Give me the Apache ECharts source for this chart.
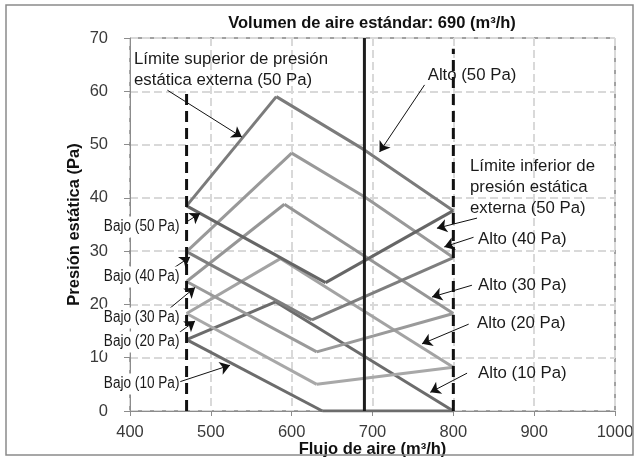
<!DOCTYPE html>
<html>
<head>
<meta charset="utf-8">
<script src="https://cdn.jsdelivr.net/npm/echarts@6/dist/echarts.min.js"></script>
<style>
  html, body { margin: 0; padding: 0; background: #ffffff; }
  #chart { width: 639px; height: 461px; }
</style>
</head>
<body>
<div id="chart"></div>
<script>
// Pressure settings (external static pressure)
const pressures = ['10 Pa', '20 Pa', '30 Pa', '40 Pa', '50 Pa'];

// Low fan speed curves [flow m3/h, pressure Pa]
const bajoCurves = [
  [[470, 13.4], [638, 0]],
  [[470, 18.3], [631, 5.0]],
  [[470, 24.3], [631, 11.1]],
  [[470, 29.9], [625, 17.1]],
  [[470, 38.5], [642, 24.1]]
];

// High fan speed curves
const altoCurves = [
  [[580, 20.5], [800, 0]],
  [[586, 28.6], [800, 8.2]],
  [[591, 38.8], [800, 18.3]],
  [[600, 48.4], [690, 40.2], [800, 28.8]],
  [[581, 59.0], [690, 49.0], [800, 37.6]]
];

// Upper limit of external static pressure
const upperLimits = [
  [[470, 13.4], [580, 20.5]],
  [[470, 18.3], [586, 28.6]],
  [[470, 24.3], [591, 38.8]],
  [[470, 29.9], [600, 48.4]],
  [[470, 38.5], [581, 59.0]]
];

// Lower limit of external static pressure
const lowerLimits = [
  [[638, 0], [800, 0]],
  [[631, 5.0], [800, 8.2]],
  [[631, 11.1], [800, 18.3]],
  [[625, 17.1], [800, 28.8]],
  [[642, 24.1], [800, 37.6]]
];

// Standard air volume and the operating flow range
const standardFlow = [[690, 0], [690, 70]];
const minFlowLine = [[470, 0], [470, 60]];
const maxFlowLine = [[800, 0], [800, 68]];

// Axis ticks
const xTicks = [400, 500, 600, 700, 800, 900, 1000];
const yTicks = [0, 10, 20, 30, 40, 50, 60, 70];

// Curve colours per setting (10 → 50 Pa)
const upperColors = ['#6c6c6c', '#a3a3a3', '#969696', '#999999', '#7b7b7b'];
const altoColors  = ['#6c6c6c', '#a3a3a3', '#969696', '#999999', '#7b7b7b'];
const bajoColors  = ['#6c6c6c', '#a8a8a8', '#9a9a9a', '#7e7e7e', '#666666'];
const lowerColors = ['#6c6c6c', '#a8a8a8', '#9a9a9a', '#7e7e7e', '#666666'];

const FONT = '"Liberation Sans", Arial, sans-serif';

function curve(name, data, color, z) {
  return {
    name: name, type: 'line', data: data, showSymbol: false, symbol: 'none',
    lineStyle: { color: color, width: 3 }, z: z, silent: true, animation: false
  };
}

const series = [];
pressures.forEach((p, i) => {
  series.push(curve('Límite superior ' + p, upperLimits[i], upperColors[i], 2 + i * 0.01));
  series.push(curve('Alto ' + p, altoCurves[i], altoColors[i], 2 + i * 0.01));
  series.push(curve('Bajo ' + p, bajoCurves[i], bajoColors[i], 2 + i * 0.01));
  series.push(curve('Límite inferior ' + p, lowerLimits[i], lowerColors[i], 2 + i * 0.01));
});

series.push({
  name: 'Volumen estándar', type: 'line', data: standardFlow, symbol: 'none',
  lineStyle: { color: '#1e1e1e', width: 3 }, z: 4, silent: true, animation: false
});
series.push({
  name: 'Flujo mínimo', type: 'line', data: minFlowLine, symbol: 'none',
  lineStyle: { color: '#111111', width: 3, type: [11, 6] }, z: 4, silent: true, animation: false
});
series.push({
  name: 'Flujo máximo', type: 'line', data: maxFlowLine, symbol: 'none',
  lineStyle: { color: '#111111', width: 3, type: [11, 6] }, z: 4, silent: true, animation: false
});

// Callout arrows (tail → head, in data units)
const arrows = [
  [[446.3, 60.2], [538.4, 51.4]],
  [[764.4, 61.2], [708.7, 48.6]],
  [[829.3, 36.2], [779.7, 34.3]],
  [[825.0, 32.6], [788.8, 30.8]],
  [[823.0, 23.6], [773.6, 21.4]],
  [[819.0, 16.3], [761.2, 12.6]],
  [[817.0, 7.1], [771.5, 3.5]],
  [[470.2, 35.5], [486.7, 37.1]],
  [[453.6, 26.8], [474.3, 28.9]],
  [[449.5, 19.3], [480.5, 23.2]],
  [[459.8, 14.6], [480.5, 16.9]],
  [[461.9, 5.5], [523.8, 8.6]]
];
series.push({
  name: 'Flechas', type: 'line', data: [], z: 6, silent: true, animation: false,
  markLine: {
    silent: true, animation: false, symbol: ['none', 'arrow'], symbolSize: 10,
    label: { show: false },
    lineStyle: { color: '#111111', width: 1, type: 'solid' },
    emphasis: { disabled: true },
    data: arrows.map(a => [{ coord: a[0] }, { coord: a[1] }])
  }
});

const chart = echarts.init(document.getElementById('chart'), null, { renderer: 'canvas' });

const option = {
  animation: false,
  backgroundColor: '#ffffff',
  title: {
    text: 'Volumen de aire estándar: 690 (m³/h)',
    left: 367, top: 10, textAlign: 'center',
    textStyle: { fontFamily: FONT, fontSize: 16.5, fontWeight: 'bold', color: '#111111' }
  },
  grid: {
    left: 130, right: 24, top: 38, bottom: 50, containLabel: false,
    outerBoundsMode: 'none',
    show: true, borderColor: '#444444', borderWidth: 1, backgroundColor: 'transparent'
  },
  xAxis: {
    type: 'value', min: xTicks[0], max: xTicks[xTicks.length - 1], interval: 100,
    name: 'Flujo de aire (m³/h)', nameLocation: 'middle', nameGap: 30, nameMoveOverlap: false,
    nameTextStyle: { fontFamily: FONT, fontSize: 16.5, fontWeight: 'bold', color: '#111111' },
    axisLine: { show: true, onZero: false, lineStyle: { color: '#8c8c8c', width: 1 } },
    axisTick: { show: true, length: 5, lineStyle: { color: '#8c8c8c' } },
    axisLabel: { margin: 13, fontFamily: FONT, fontSize: 16.5, color: '#3a3a3a', formatter: v => String(v) },
    splitLine: { show: true, lineStyle: { color: '#d9d9d9', width: 2, type: [8, 4] } }
  },
  yAxis: {
    type: 'value', min: yTicks[0], max: yTicks[yTicks.length - 1], interval: 10,
    name: 'Presión estática (Pa)', nameLocation: 'middle', nameGap: 47, nameRotate: 90, nameMoveOverlap: false,
    nameTextStyle: { fontFamily: FONT, fontSize: 16.5, fontWeight: 'bold', color: '#111111' },
    axisLine: { show: true, lineStyle: { color: '#8c8c8c', width: 1 } },
    axisTick: { show: true, length: 6, lineStyle: { color: '#8c8c8c' } },
    axisLabel: { margin: 22, fontFamily: FONT, fontSize: 16.5, color: '#3a3a3a', formatter: v => String(v) },
    splitLine: { show: true, lineStyle: { color: '#d9d9d9', width: 2, type: [8, 4] } }
  },
  series: series
};

chart.setOption(option);

// Text callouts, anchored in data units
const callouts = [
  { text: 'Límite superior de presión\nestática externa (50 Pa)', at: [404.9, 67.97], align: 'left', size: 16.8 },
  { text: 'Alto (50 Pa)', at: [822.7, 63.0], align: 'center', size: 16.8 },
  { text: 'Límite inferior de\npresión estática\nexterna (50 Pa)', at: [820.6, 47.8], align: 'left', size: 16.8 },
  { text: 'Alto (40 Pa)', at: [830.5, 32.28], align: 'left', size: 16.8 },
  { text: 'Alto (30 Pa)', at: [830.5, 23.65], align: 'left', size: 16.8 },
  { text: 'Alto (20 Pa)', at: [828.9, 16.46], align: 'left', size: 16.8 },
  { text: 'Alto (10 Pa)', at: [830.5, 7.19], align: 'left', size: 16.8 },
  { text: 'Bajo (50 Pa)', at: [366.6, 34.47], align: 'left', size: 16, narrow: true },
  { text: 'Bajo (40 Pa)', at: [366.6, 25.09], align: 'left', size: 16, narrow: true },
  { text: 'Bajo (30 Pa)', at: [366.6, 17.40], align: 'left', size: 16, narrow: true },
  { text: 'Bajo (20 Pa)', at: [366.6, 13.01], align: 'left', size: 16, narrow: true },
  { text: 'Bajo (10 Pa)', at: [366.6, 5.07], align: 'left', size: 16, narrow: true }
];

const graphics = callouts.map(c => {
  const p = chart.convertToPixel({ gridIndex: 0 }, c.at);
  const multi = c.text.indexOf('\n') >= 0;
  return {
    type: 'text', x: Math.round(p[0]), y: Math.round(p[1]), z: 20,
    scaleX: c.narrow ? 0.85 : 1,
    style: {
      text: c.text, fontFamily: FONT, fontSize: c.size, fill: '#1a1a1a',
      align: c.align, verticalAlign: multi ? 'top' : 'middle',
      lineHeight: 21,
      backgroundColor: c.narrow ? '#ffffff' : undefined,
      padding: c.narrow ? [0, 1, 0, 1] : 0
    }
  };
});

// Outer frame of the figure
graphics.push({
  type: 'rect', z: 30, silent: true,
  shape: { x: 6, y: 5, width: 627, height: 450 },
  style: { fill: 'none', stroke: '#8a8a8a', lineWidth: 1.5 }
});

chart.setOption({ graphic: graphics });
</script>
</body>
</html>
